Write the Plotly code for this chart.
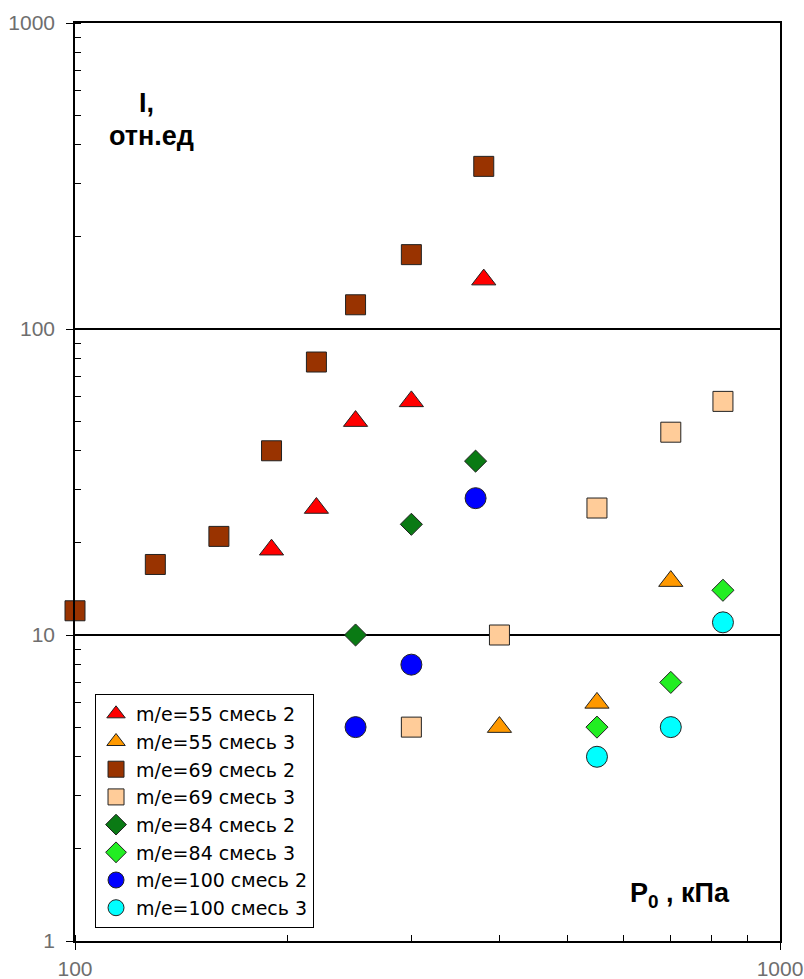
import plotly.graph_objects as go

# Pressure P0 (kPa) and relative intensity I for each ion / mixture
x_55_2 = [190, 220, 250, 300, 380]
y_55_2 = [19, 26, 50, 58, 145]

x_55_3 = [400, 550, 700]
y_55_3 = [5, 6, 15]

x_69_2 = [100, 130, 160, 190, 220, 250, 300, 380]
y_69_2 = [12, 17, 21, 40, 78, 120, 175, 340]

x_69_3 = [300, 400, 550, 700, 830]
y_69_3 = [5, 10, 26, 46, 58]

x_84_2 = [250, 300, 370]
y_84_2 = [10, 23, 37]

x_84_3 = [550, 700, 830]
y_84_3 = [5, 7, 14]

x_100_2 = [250, 300, 370]
y_100_2 = [5, 8, 28]

x_100_3 = [550, 700, 830]
y_100_3 = [4, 5, 11]

series = [
    ("m/e=55 смесь 2", x_55_2, y_55_2, "triangle-up", "#FF0000", 21),
    ("m/e=55 смесь 3", x_55_3, y_55_3, "triangle-up", "#FF9900", 21),
    ("m/e=69 смесь 2", x_69_2, y_69_2, "square", "#993300", 20),
    ("m/e=69 смесь 3", x_69_3, y_69_3, "square", "#FFCC99", 20),
    ("m/e=84 смесь 2", x_84_2, y_84_2, "diamond", "#0A7A14", 17),
    ("m/e=84 смесь 3", x_84_3, y_84_3, "diamond", "#22EE22", 17),
    ("m/e=100 смесь 2", x_100_2, y_100_2, "circle", "#0000FF", 21),
    ("m/e=100 смесь 3", x_100_3, y_100_3, "circle", "#00FFFF", 21),
]

FONT = "Liberation Sans, Arial, sans-serif"
LEGEND_FONT = "DejaVu Sans, Liberation Sans, sans-serif"

fig = go.Figure()
for name, xs, ys, sym, col, sz in series:
    fig.add_trace(go.Scatter(
        x=xs, y=ys, mode="markers", name=name, cliponaxis=False,
        marker=dict(symbol=sym, size=sz, color=col,
                    line=dict(color="#222222", width=1)),
    ))

axis_common = dict(
    type="log", automargin=False,
    showline=True, mirror=True, linecolor="black", linewidth=1.5,
    ticks="outside", ticklen=7, tickcolor="black", tickwidth=1,
    tickfont=dict(family=FONT, size=21, color="#6e6e6e"),
    dtick=1, zeroline=False,
    minor=dict(ticks="inside", ticklen=6, tickcolor="black",
               tickwidth=1, dtick="D1", showgrid=False),
)

fig.update_xaxes(range=[2, 3], showgrid=False, ticklabelstandoff=1,
                 **axis_common)
fig.update_yaxes(range=[0, 3], showgrid=True, gridcolor="black",
                 gridwidth=1.5, ticklabelstandoff=7, **axis_common)

label_font = dict(family=FONT, size=27, color="black")
fig.add_annotation(text="<b>I,</b>", xref="paper", yref="paper",
                   x=0.102, y=0.913, xanchor="center", yanchor="middle",
                   showarrow=False, font=label_font)
fig.add_annotation(text="<b>отн.ед</b>", xref="paper", yref="paper",
                   x=0.108, y=0.877, xanchor="center", yanchor="middle",
                   showarrow=False, font=label_font)
fig.add_annotation(text="<b>P<sub>0</sub> , кПа</b>", xref="paper",
                   yref="paper", x=0.858, y=0.05, xanchor="center",
                   yanchor="middle", showarrow=False, font=label_font)

fig.update_layout(
    width=804, height=979,
    margin=dict(l=75, r=24, t=23, b=38),
    paper_bgcolor="white", plot_bgcolor="white",
    showlegend=True,
    legend=dict(
        x=0.0284, y=0.0142, xanchor="left", yanchor="bottom",
        bgcolor="white", bordercolor="black", borderwidth=1,
        font=dict(family=LEGEND_FONT, size=19, color="black"),
        itemsizing="trace",
    ),
)

fig.write_html("out.html")
